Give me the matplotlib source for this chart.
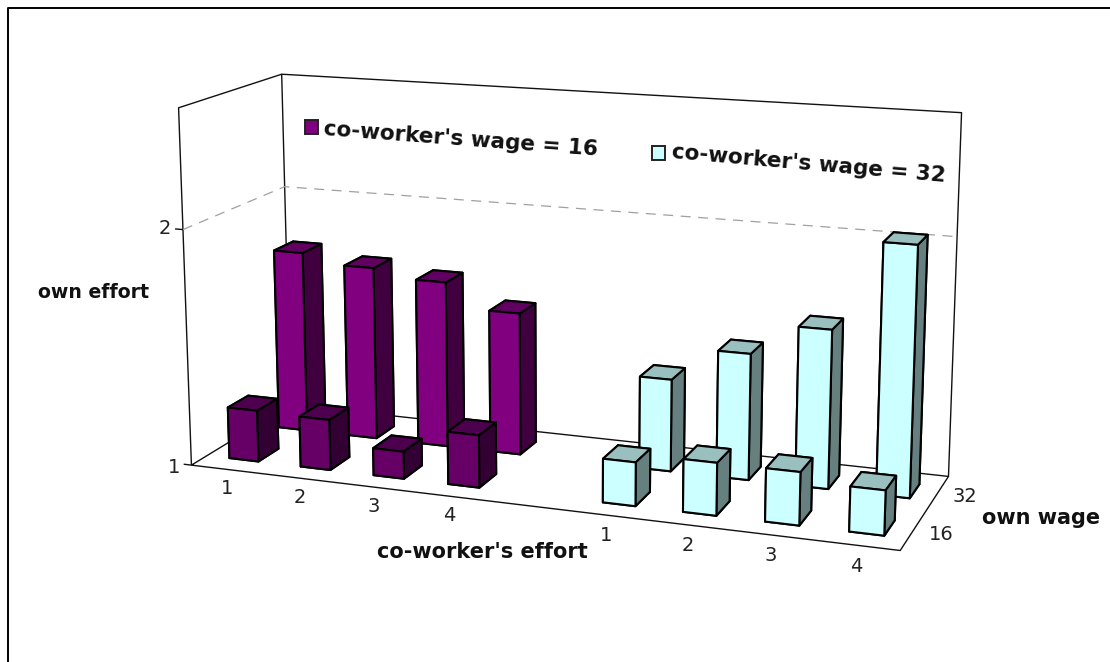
import numpy as np
import matplotlib
matplotlib.use("Agg")
import matplotlib.pyplot as plt
from matplotlib.patches import Rectangle
from matplotlib.text import Text
from mpl_toolkits.mplot3d import Axes3D, proj3d  # noqa
from mpl_toolkits.mplot3d.art3d import Line3DCollection

# ---- data ----
x_labels = ["1", "2", "3", "4", "", "1", "2", "3", "4"]
wage_labels = ["16", "32"]
low_coworker_own16 = [1.22, 1.215, 1.115, 1.22]
low_coworker_own32 = [1.79, 1.75, 1.715, 1.61]
high_coworker_own16 = [1.18, 1.215, 1.215, 1.18]
high_coworker_own32 = [1.39, 1.53, 1.66, 2.03]
z_ticks = [1, 2]
Z_MIN, Z_MAX = 1.0, 2.5

# ---- style ----
PURPLE_BACK = ["#800080", "#600060", "#800080", "#800080", "#400040", "#400040"]
PURPLE_FRONT = ["#660066", "#4d004d", "#660066", "#660066", "#330033", "#330033"]
CYAN = ["#ccffff", "#99bfbf", "#ccffff", "#ccffff", "#668080", "#668080"]
BAR_W, BAR_D = 0.41, 0.40

# ---- camera calibration: box corners (x, row, z) seen at these pixels ----
world = np.array([
    [0, 0, Z_MIN], [9, 0, Z_MIN], [0, 2, Z_MIN], [9, 2, Z_MIN],
    [0, 0, Z_MAX], [0, 2, Z_MAX], [9, 2, Z_MAX],
    [0, 0, 2], [0, 2, 2], [9, 2, 2],
], float)
pix = np.array([
    [192.7, 465], [900, 551], [289, 405], [950, 476],
    [177.7, 107.7], [282.3, 74.3], [964, 113.3],
    [182.7, 229.3], [285.3, 186.7], [953.3, 236],
], float)


def solve_camera(W, P):
    rows = []
    for (X, Y, Z), (u, v) in zip(W, P):
        h = [X, Y, Z, 1]
        rows.append(h + [0, 0, 0, 0] + [-u * c for c in h])
        rows.append([0, 0, 0, 0] + h + [-v * c for c in h])
    _, _, vt = np.linalg.svd(np.array(rows))
    C = vt[-1].reshape(3, 4)
    C /= C[2] @ np.array([4.5, 1, 1.75, 1])
    return C


C = solve_camera(world, pix)
# depth = -1/w, so larger means farther from the camera
M = np.vstack([C[0], C[1], [0, 0, 0, -1], C[2]])

fig = plt.figure(figsize=(11.1, 6.62), dpi=100)
ax = fig.add_axes([0, 0, 1, 1], projection="3d")
ax.apply_aspect = lambda position=None: None
ax.get_proj = lambda: M
ax.viewLim.intervalx = (0, 1110)
ax.viewLim.intervaly = (662, 0)
ax.set_xticks([])
ax.set_yticks([])
ax.set_zticks([])
ax.set_axis_off()
ax.computed_zorder = False
ax.patch.set_visible(False)


def line(xs, ys, zs, color="#111111", lw=1.0, ls="solid", zorder=1):
    pts = np.column_stack([xs, ys, zs])
    coll = Line3DCollection([pts], colors=color, linewidths=lw, linestyles=ls, zorder=zorder)
    ax.add_collection3d(coll, autolim=False)


def label3d(x, y, z, s):
    """Tick label placed at a 3D data position, through the same camera."""
    u, v, _ = proj3d.proj_transform(x, y, z, M)
    ax.text2D(float(u), float(v), s, transform=ax.transData, fontsize=14, ha="center",
              va="center", color="#222222", zorder=7)


# walls and floor
line([0, 0, 0], [0, 0, 2], [Z_MIN, Z_MAX, Z_MAX])
line([0, 0, 9, 9], [2, 2, 2, 2], [Z_MIN, Z_MAX, Z_MAX, Z_MIN])
line([0, 9, 9, 0, 0], [0, 0, 2, 2, 0], [Z_MIN] * 5)
# gridline at 2
line([0, 0, 9], [0, 2, 2], [2, 2, 2], color="#a0a0a0", lw=0.9, ls=(0, (8, 6)))


# bars
def bars(starts, row, values, faces, z):
    for s, v in zip(starts, values):
        ax.bar3d(s + 0.52 - BAR_W / 2, row + 0.5 - BAR_D / 2, Z_MIN, BAR_W, BAR_D, v - Z_MIN,
                 color=faces, shade=False, edgecolor="#000000", linewidth=1.5,
                 zorder=z + s * 0.01)


left_x = [0, 1, 2, 3]
right_x = [5, 6, 7, 8]
bars(left_x, 1, low_coworker_own32, PURPLE_BACK, 3)
bars(right_x, 1, high_coworker_own32, CYAN, 3)
bars(left_x, 0, low_coworker_own16, PURPLE_FRONT, 5)
bars(right_x, 0, high_coworker_own16, CYAN, 5)

# ticks on the vertical axis
for t in z_ticks:
    line([0, -0.11], [0, 0], [t, t])
    label3d(-0.03, -0.28, t + 0.03, str(t))

# category labels
for i, lab in enumerate(x_labels):
    if lab:
        label3d(i * 0.975 + 0.85, -0.47, Z_MIN, lab)
for r, lab in enumerate(wage_labels):
    label3d(9.33, r + 0.5, Z_MIN, lab)


def ptext(px, py, s, **kw):
    fig.text(px / 1110, 1 - py / 662, s, ha="center", va="center", color="#111111",
             fontweight="bold", **kw)


ptext(93, 292, "own effort", fontsize=13.6)
ptext(482, 552, "co-worker's effort", fontsize=15)
ptext(1041, 518, "own wage", fontsize=15)
ptext(461, 139, "co-worker's wage = 16", fontsize=15.5, rotation=-4.3, rotation_mode="anchor")
ptext(809, 164, "co-worker's wage = 32", fontsize=15.5, rotation=-5, rotation_mode="anchor")

for (px, py, col) in [(305, 120, "#800080"), (652, 146, "#ccffff")]:
    fig.add_artist(Rectangle((px / 1110, 1 - (py + 14) / 662), 13 / 1110, 14 / 662,
                             transform=fig.transFigure, facecolor=col, edgecolor="#222222", lw=1.4))

fig.add_artist(plt.Line2D([7.8 / 1110, 7.8 / 1110, 1],
                          [0, 1 - 8.3 / 662, 1 - 8.3 / 662],
                          transform=fig.transFigure, color="black", lw=1.4))

fig.savefig("out.png", dpi=100)
